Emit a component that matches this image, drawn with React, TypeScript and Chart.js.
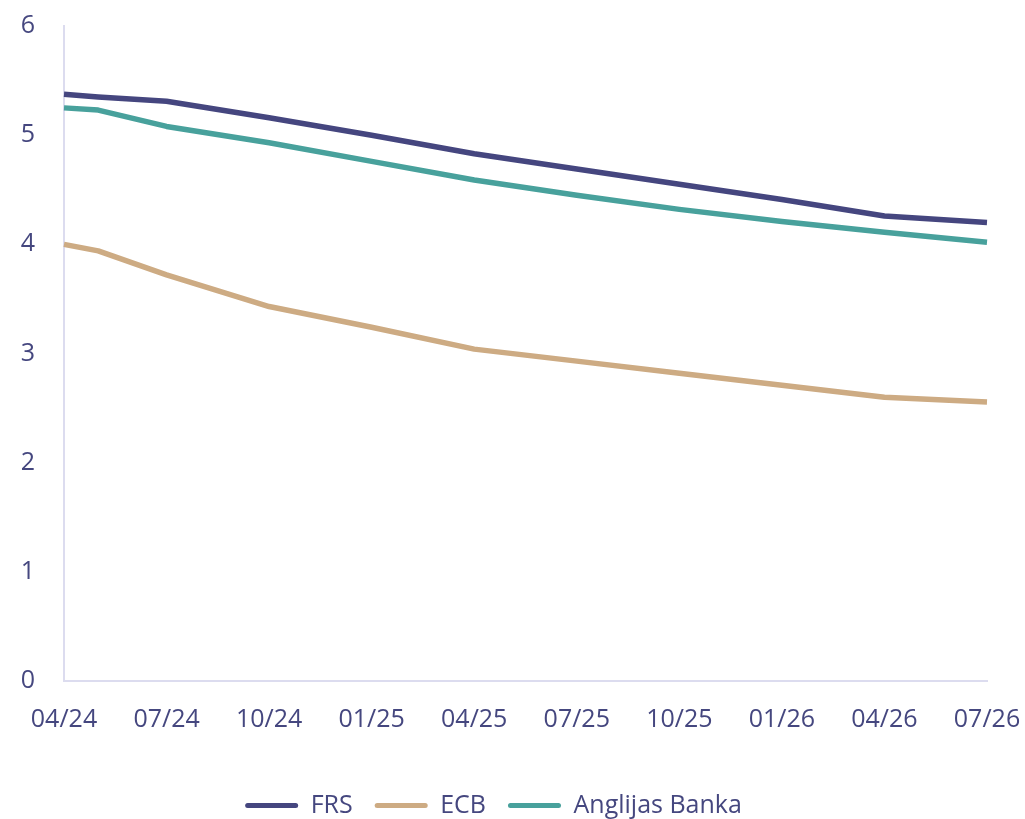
import React, { useEffect, useRef } from "react";
import { Chart, registerables } from "chart.js";

Chart.register(...registerables);

const months = [
  "04/24", "05/24", "06/24", "07/24", "08/24", "09/24", "10/24", "11/24", "12/24",
  "01/25", "02/25", "03/25", "04/25", "05/25", "06/25", "07/25", "08/25", "09/25",
  "10/25", "11/25", "12/25", "01/26", "02/26", "03/26", "04/26", "05/26", "06/26", "07/26",
];

const frs = [5.375, 5.35, null, 5.31, null, null, 5.16, null, null, 5.0, null, null, 4.83, null, null, 4.69, null, null, 4.55, null, null, 4.41, null, null, 4.26, null, null, 4.2];
const ecb = [4.0, 3.94, null, 3.72, null, null, 3.43, null, null, 3.24, null, null, 3.04, null, null, 2.93, null, null, 2.82, null, null, 2.71, null, null, 2.6, null, null, 2.555];
const boe = [5.25, 5.23, null, 5.08, null, null, 4.93, null, null, 4.76, null, null, 4.59, null, null, 4.45, null, null, 4.32, null, null, 4.21, null, null, 4.11, null, null, 4.02];

const seriesNames = ["FRS", "ECB", "Anglijas Banka"];
const seriesColors = ["#45467f", "#cdab83", "#48a19c"];
const yTicks = [0, 1, 2, 3, 4, 5, 6];

const textColor = "#45477f";
const axisColor = "#dcdcef";
const fontFamily = "'Open Sans', 'Noto Sans', sans-serif";

export default function App() {
  const ref = useRef<HTMLCanvasElement | null>(null);

  useEffect(() => {
    if (!ref.current) return;
    const data = [frs, ecb, boe];
    const chart = new Chart(ref.current, {
      type: "line",
      data: {
        labels: months,
        datasets: seriesNames.map((name, i) => ({
          label: name,
          data: data[i],
          borderColor: seriesColors[i],
          backgroundColor: seriesColors[i],
          borderWidth: 5.5,
          pointRadius: 0,
          tension: 0,
          spanGaps: true,
          borderCapStyle: "butt",
          borderJoinStyle: "round",
        })),
      },
      options: {
        animation: false,
        responsive: false,
        maintainAspectRatio: false,
        layout: { padding: { top: 26, right: 38, left: 0, bottom: 4 } },
        plugins: {
          tooltip: { enabled: false },
          legend: {
            position: "bottom",
            labels: {
              color: textColor,
              font: { family: fontFamily, size: 25 },
              boxWidth: 53,
              boxHeight: 5,
              padding: 22,
              useBorderRadius: true,
              borderRadius: 2.5,
              generateLabels: () =>
                seriesNames.map((name, i) => ({
                  text: name,
                  fillStyle: seriesColors[i],
                  strokeStyle: seriesColors[i],
                  lineWidth: 0,
                  fontColor: textColor,
                  hidden: false,
                  datasetIndex: i,
                  borderRadius: 2.5,
                })),
            },
          },
        },
        scales: {
          x: {
            type: "category",
            offset: false,
            grid: { display: false, drawTicks: false },
            border: { display: true, color: axisColor, width: 2 },
            ticks: {
              color: textColor,
              font: { family: fontFamily, size: 25 },
              autoSkip: false,
              maxRotation: 0,
              minRotation: 0,
              padding: 24,
              callback: (_v: any, i: number) => (i % 3 === 0 ? months[i] : ""),
            },
            afterFit: (s: any) => {
              s.height = 90;
              s.paddingLeft = 0;
              s.paddingRight = 0;
            },
          },
          y: {
            min: 0,
            max: 6,
            afterBuildTicks: (s: any) => {
              s.ticks = yTicks.map((v) => ({ value: v }));
            },
            grid: { display: false, drawTicks: false },
            border: { display: true, color: axisColor, width: 2 },
            ticks: {
              color: textColor,
              font: { family: fontFamily, size: 25 },
              padding: 29,
            },
            afterFit: (s: any) => {
              s.width = 64;
              s.paddingTop = 0;
              s.paddingBottom = 0;
            },
          },
        },
      },
    });
    return () => chart.destroy();
  }, []);

  return (
    <div style={{ position: "absolute", left: 0, top: 0, width: 1025, height: 819, overflow: "hidden", background: "#fff" }}>
      <canvas ref={ref} width={1025} height={832} style={{ display: "block" }} />
    </div>
  );
}
